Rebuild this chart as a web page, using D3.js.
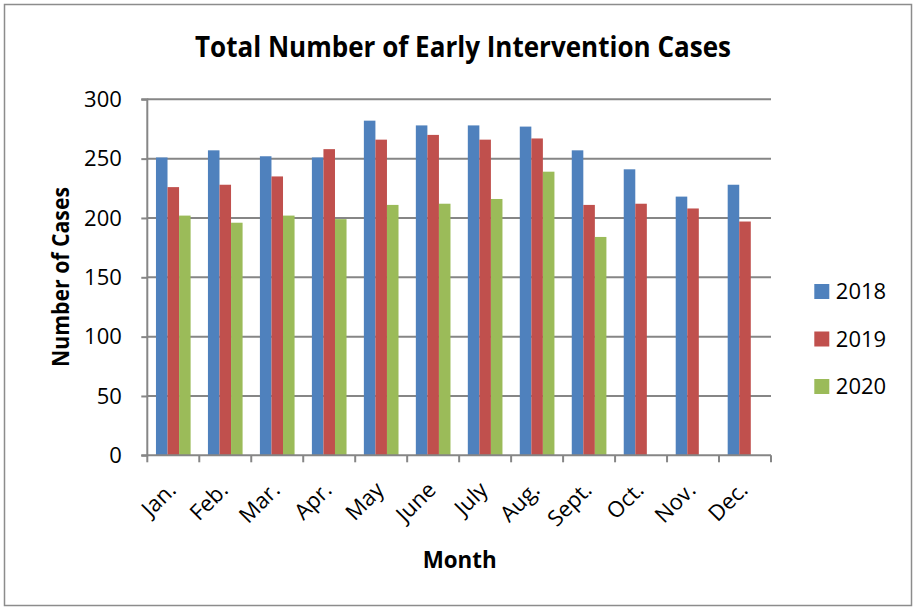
<!DOCTYPE html>
<html>
<head>
<meta charset="utf-8">
<script src="https://cdn.jsdelivr.net/npm/d3@7"></script>
<style>
  body { margin: 0; background: #fff; }
  text { font-family: "Open Sans", "Noto Sans", sans-serif; fill: #000; }
</style>
</head>
<body>
<div id="chart"></div>
<script>
// data
var months = ["Jan.", "Feb.", "Mar.", "Apr.", "May", "June", "July", "Aug.", "Sept.", "Oct.", "Nov.", "Dec."];
var years = ["2018", "2019", "2020"];
var cases2018 = [251, 257, 252, 251, 282, 278, 278, 277, 257, 241, 218, 228];
var cases2019 = [226, 228, 235, 258, 266, 270, 266, 267, 211, 212, 208, 197];
var cases2020 = [202, 196, 202, 199, 211, 212, 216, 239, 184, null, null, null];
var yTicks = [0, 50, 100, 150, 200, 250, 300];
var colors = ["#4F81BD", "#C0504D", "#9BBB59"];

var seriesValues = [cases2018, cases2019, cases2020];
var rows = [];
months.forEach(function(m, i) {
  years.forEach(function(y, j) {
    if (seriesValues[j][i] !== null) rows.push({month: m, year: y, value: seriesValues[j][i]});
  });
});

var width = 923, height = 608;
var svg = d3.select("#chart").append("svg")
    .attr("width", width)
    .attr("height", height);

// outer frame
svg.append("rect")
  .attr("x", 4.5).attr("y", 4.5)
  .attr("width", 907).attr("height", 601)
  .attr("fill", "#fff")
  .attr("stroke", "#8c8c8c")
  .attr("stroke-width", 1.5);

var plotLeft = 147.3, plotRight = 771, plotTop = 99.3, plotBottom = 455.3;

var x0 = d3.scaleBand().domain(months).range([plotLeft, plotRight]).padding(0);
var bw = x0.bandwidth();
// excel-ish gap width of 150%
var x1 = d3.scaleBand().domain(years).range([bw / 6, bw * 5 / 6]).padding(0);
var y = d3.scaleLinear().domain([0, 300]).range([plotBottom, plotTop]);

// gridlines
svg.append("g")
  .selectAll("line")
  .data(yTicks.filter(function(d) { return d > 0; }))
  .enter().append("line")
  .attr("x1", plotLeft).attr("x2", plotRight)
  .attr("y1", function(d) { return y(d); })
  .attr("y2", function(d) { return y(d); })
  .attr("stroke", "#868686")
  .attr("stroke-width", 2);

// bars
svg.append("g")
  .selectAll("rect")
  .data(rows)
  .enter().append("rect")
  .attr("x", function(d) { return x0(d.month) + x1(d.year); })
  .attr("y", function(d) { return y(d.value); })
  .attr("width", x1.bandwidth())
  .attr("height", function(d) { return y(0) - y(d.value); })
  .attr("fill", function(d) { return colors[years.indexOf(d.year)]; });

// y axis
var yAxis = d3.axisLeft(y).tickValues(yTicks).tickSize(6).tickPadding(19.5);
var gy = svg.append("g")
  .attr("transform", "translate(" + plotLeft + ",0)")
  .call(yAxis);
gy.selectAll("line, path").attr("stroke", "#868686").attr("stroke-width", 2);
gy.select(".domain").attr("d", "M-6," + plotTop + "H0V" + plotBottom + "H-6");
gy.selectAll("text")
  .style("font-size", "22px")
  .style("font-family", "'Open Sans', sans-serif")
  .attr("fill", "#000");

// x axis: tick marks at category boundaries
svg.append("line")
  .attr("x1", plotLeft).attr("x2", plotRight)
  .attr("y1", plotBottom).attr("y2", plotBottom)
  .attr("stroke", "#868686").attr("stroke-width", 2);
svg.append("g")
  .selectAll("line")
  .data(d3.range(months.length + 1))
  .enter().append("line")
  .attr("x1", function(i) { return plotLeft + i * bw; })
  .attr("x2", function(i) { return plotLeft + i * bw; })
  .attr("y1", plotBottom).attr("y2", plotBottom + 7)
  .attr("stroke", "#868686").attr("stroke-width", 2);

svg.append("g")
  .selectAll("text")
  .data(months)
  .enter().append("text")
  .attr("transform", function(d) {
    return "translate(" + (x0(d) + bw / 2 + 4) + "," + (plotBottom + 36) + ") rotate(-45)";
  })
  .attr("text-anchor", "end")
  .style("font-size", "22px")
  .text(function(d) { return d; });

// titles
svg.append("text")
  .attr("x", 463).attr("y", 57.3)
  .attr("text-anchor", "middle")
  .style("font-size", "29px")
  .style("font-weight", "bold")
  .attr("textLength", 536)
  .attr("lengthAdjust", "spacingAndGlyphs")
  .text("Total Number of Early Intervention Cases");

svg.append("text")
  .attr("x", 459.7).attr("y", 568.3)
  .attr("text-anchor", "middle")
  .style("font-size", "23px")
  .style("font-weight", "bold")
  .attr("textLength", 74)
  .attr("lengthAdjust", "spacingAndGlyphs")
  .text("Month");

svg.append("text")
  .attr("transform", "translate(69,277) rotate(-90)")
  .attr("text-anchor", "middle")
  .style("font-size", "23px")
  .style("font-weight", "bold")
  .attr("textLength", 180)
  .attr("lengthAdjust", "spacingAndGlyphs")
  .text("Number of Cases");

// legend
var legend = svg.append("g")
  .selectAll("g")
  .data(years)
  .enter().append("g")
  .attr("transform", function(d, i) { return "translate(814.3," + (284 + i * 47.5) + ")"; });
legend.append("rect")
  .attr("width", 15).attr("height", 15)
  .attr("fill", function(d, i) { return colors[i]; });
legend.append("text")
  .attr("x", 21.5).attr("y", 15.2)
  .style("font-size", "22px")
  .text(function(d) { return d; });
</script>
</body>
</html>
